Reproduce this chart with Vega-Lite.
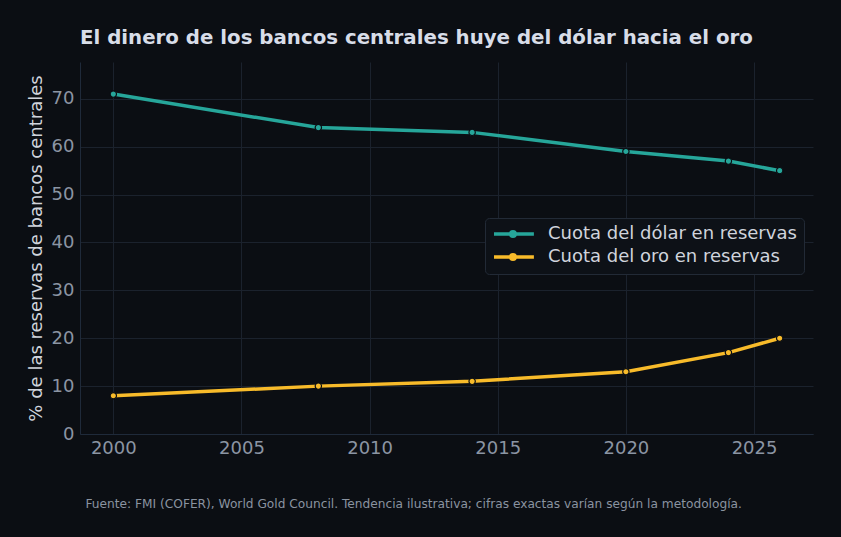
{
  "$schema": "https://vega.github.io/schema/vega-lite/v6.json",
  "width": 733,
  "height": 372,
  "autosize": {"type": "none"},
  "padding": {"left": 80, "top": 62, "right": 28, "bottom": 103},
  "background": "#0b0e13",
  "title": {
    "text": "El dinero de los bancos centrales huye del dólar hacia el oro",
    "anchor": "start",
    "frame": "group",
    "baseline": "alphabetic",
    "offset": -2,
    "font": "DejaVu Sans",
    "fontSize": 19.8,
    "fontWeight": "bold",
    "color": "#d8dde8"
  },
  "data": {
    "values": [
      {"year": 2000, "serie": "Cuota del dólar en reservas", "pct": 71},
      {"year": 2008, "serie": "Cuota del dólar en reservas", "pct": 64},
      {"year": 2014, "serie": "Cuota del dólar en reservas", "pct": 63},
      {"year": 2020, "serie": "Cuota del dólar en reservas", "pct": 59},
      {"year": 2024, "serie": "Cuota del dólar en reservas", "pct": 57},
      {"year": 2026, "serie": "Cuota del dólar en reservas", "pct": 55},
      {"year": 2000, "serie": "Cuota del oro en reservas", "pct": 8},
      {"year": 2008, "serie": "Cuota del oro en reservas", "pct": 10},
      {"year": 2014, "serie": "Cuota del oro en reservas", "pct": 11},
      {"year": 2020, "serie": "Cuota del oro en reservas", "pct": 13},
      {"year": 2024, "serie": "Cuota del oro en reservas", "pct": 17},
      {"year": 2026, "serie": "Cuota del oro en reservas", "pct": 20}
    ]
  },
  "layer": [
    {
      "mark": {"type": "line", "strokeWidth": 3.5}
    },
    {
      "mark": {"type": "point", "filled": true, "size": 40, "opacity": 1, "stroke": "#0b0e13", "strokeWidth": 1.2}
    }
  ],
  "encoding": {
    "x": {
      "field": "year",
      "type": "quantitative",
      "scale": {"domain": [1998.7, 2027.3], "nice": false, "zero": false},
      "axis": {
        "values": [2000, 2005, 2010, 2015, 2020, 2025],
        "format": "d",
        "title": "Fuente: FMI (COFER), World Gold Council. Tendencia ilustrativa; cifras exactas varían según la metodología.",
        "titleAnchor": "start",
        "titleAlign": "left",
        "titleX": 5,
        "titleY": 73,
        "titleFontSize": 12.2,
        "titleFontWeight": "normal",
        "titleColor": "#8a93a0",
        "titleBaseline": "alphabetic"
      }
    },
    "y": {
      "field": "pct",
      "type": "quantitative",
      "scale": {"domain": [0, 77.7], "nice": false},
      "axis": {
        "values": [0, 10, 20, 30, 40, 50, 60, 70],
        "title": "% de las reservas de bancos centrales",
        "titleFontSize": 18,
        "titleFontWeight": "normal",
        "titleColor": "#d0d4dc",
        "titlePadding": 6
      }
    },
    "color": {
      "field": "serie",
      "type": "nominal",
      "scale": {
        "domain": ["Cuota del dólar en reservas", "Cuota del oro en reservas"],
        "range": ["#26a69a", "#f8bb2a"]
      },
      "legend": {
        "title": null,
        "orient": "none",
        "legendX": 405,
        "legendY": 156,
        "symbolType": "M-1,0H4.7M2.03,0A0.32,0.32,0,1,1,1.39,0A0.32,0.32,0,1,1,2.03,0",
        "symbolSize": 196,
        "symbolStrokeWidth": 3.5,
        "symbolOpacity": 1,
        "labelFontSize": 18,
        "labelLimit": 0,
        "labelColor": "#d0d4dc",
        "labelFont": "DejaVu Sans",
        "labelOffset": 38,
        "rowPadding": 3,
        "padding": 7,
        "fillColor": "#0d1117",
        "strokeColor": "#222a36",
        "cornerRadius": 4
      }
    }
  },
  "config": {
    "font": "DejaVu Sans",
    "view": {"stroke": null},
    "axis": {
      "grid": true,
      "gridColor": "#1b222d",
      "gridWidth": 1,
      "domainColor": "#1f2a3a",
      "ticks": false,
      "labelColor": "#8b95a3",
      "labelFontSize": 18,
      "labelFont": "DejaVu Sans",
      "titleFont": "DejaVu Sans"
    },
    "axisX": {"labelPadding": 5},
    "axisY": {"labelPadding": 6}
  }
}
